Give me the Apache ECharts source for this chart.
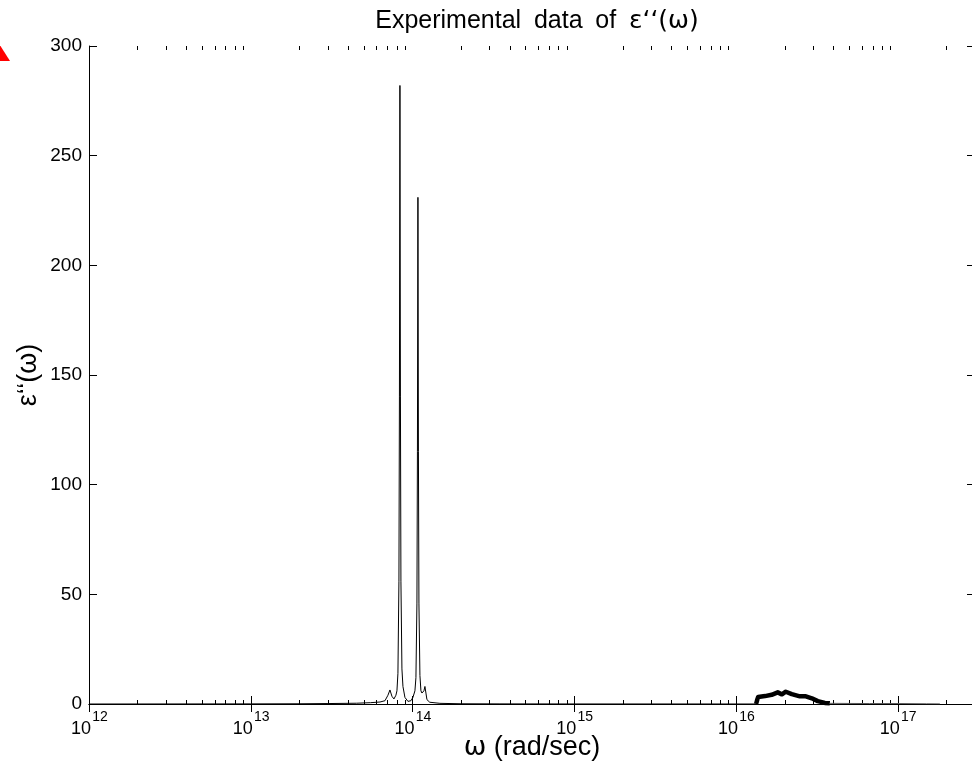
<!DOCTYPE html>
<html>
<head>
<meta charset="utf-8">
<script src="https://cdn.jsdelivr.net/npm/echarts@6/dist/echarts.min.js"></script>
<style>html,body{margin:0;padding:0;background:#fff}#chart{width:972px;height:766px}</style>
</head>
<body>
<div id="chart"></div>
<script>
// ---- data ----
const titleWords = ['Experimental', 'data', 'of'];
const titleSymbol = '\u03b5\u2018\u2018(\u03c9)';
const xNameSymbol = '\u03c9';
const xNameRest = ' (rad/sec)';
const yName = '\u03b5\u2018\u2018(\u03c9)';
const xMin = 1e12;
const xMax = 3e17;
const yMin = 0;
const yMax = 300;
const yStep = 50;
const majorTicksX = [1e12, 1e13, 1e14, 1e15, 1e16, 1e17];
const minorTicksX = [
  2e12,3e12,4e12,5e12,6e12,7e12,8e12,9e12,
  2e13,3e13,4e13,5e13,6e13,7e13,8e13,9e13,
  2e14,3e14,4e14,5e14,6e14,7e14,8e14,9e14,
  2e15,3e15,4e15,5e15,6e15,7e15,8e15,9e15,
  2e16,3e16,4e16,5e16,6e16,7e16,8e16,9e16,
  2e17
];
// infrared phonon peaks
const irOmega = [1e12, 3e12, 1e13, 2e13, 3e13, 4.5e13, 5.5e13, 6.29e13, 6.754e13, 7.048e13, 7.251e13,
  7.46e13, 7.675e13, 7.896e13, 8.01e13, 8.124e13, 8.241e13, 8.30e13, 8.359e13, 8.419e13, 8.479e13,
  8.60e13, 8.724e13, 8.975e13, 9.366e13, 9.774e13, 1.0058e14, 1.0348e14, 1.0496e14, 1.0646e14,
  1.0722e14, 1.0799e14, 1.0876e14, 1.0954e14, 1.1111e14, 1.127e14, 1.1432e14, 1.1762e14, 1.193e14,
  1.2101e14, 1.2274e14, 1.2774e14, 1.476e14, 2e14, 3.47e14, 1e15, 6e15, 1.3e16];
const irEps = [0, 0.02, 0.05, 0.1, 0.2, 0.35, 0.6, 0.9, 1.5, 4, 6.4,
  3.5, 2.3, 4, 6, 14, 56, 140, 282, 140, 56,
  16, 8, 3, 1.2, 1.5, 3, 6, 12, 46,
  115, 231, 115, 46, 13, 6, 5, 6, 8,
  5, 2, 0.8, 0.3, 0.1, 0.05, 0.02, 0.01, 0];
// ultraviolet electronic band (noisy, drawn thick)
const uvOmega = [1.33e16, 1.35e16, 1.37e16, 1.51e16, 1.66e16, 1.81e16, 1.92e16, 2.03e16, 2.21e16,
  2.48e16, 2.70e16, 2.94e16, 3.20e16, 3.54e16, 3.80e16];
const uvEps = [0, 1.8, 3.2, 3.6, 4.2, 5.3, 4.4, 5.6, 4.5, 3.5, 3.5, 2.6, 1.3, 0.5, 0.3];
const tailOmega = [3.80e16, 6.71e16, 1.03e17, 1.5e17, 1.82e17];
const tailEps = [0.3, 0.2, 0.2, 0.1, 0.05];

const zip = (a, b) => a.map((v, i) => [v, b[i]]);
const FONT = '"Liberation Sans", Arial, sans-serif';
const GFONT = '"DejaVu Sans", sans-serif';

const gridBox = { left: 89, top: 46, width: 886, height: 658, containLabel: false, outerBoundsMode: 'none' };

const chart = echarts.init(document.getElementById('chart'), null, { renderer: 'canvas' });
const supLabel = v => '{s|' + Math.round(Math.log10(v)) + '}\n{b|10}';

const logAxisBase = {
  type: 'log', logBase: 10, min: xMin, max: xMax,
  splitLine: { show: false }, minorTick: { show: false }, minorSplitLine: { show: false }
};

const titleRich = titleWords.map(w => '{a|' + w + '}').join('{sp| }') + '{sp| }{g|' + titleSymbol + '}';

chart.setOption({
  animation: false,
  backgroundColor: '#fff',
  title: {
    text: titleRich, left: 532, top: 3, textAlign: 'center',
    textStyle: {
      fontFamily: FONT, fontSize: 25, fontWeight: 'normal', color: '#000',
      rich: {
        a: { fontFamily: FONT, fontSize: 25, lineHeight: 27, color: '#000' },
        sp: { fontFamily: FONT, fontSize: 46, lineHeight: 27, color: '#000' },
        g: { fontFamily: GFONT, fontSize: 25, lineHeight: 27, color: '#000' }
      }
    }
  },
  grid: [Object.assign({}, gridBox), Object.assign({}, gridBox)],
  xAxis: [
    Object.assign({}, logAxisBase, {
      gridIndex: 0, position: 'bottom',
      name: '{g|' + xNameSymbol + '}{a|' + xNameRest + '}', nameLocation: 'middle', nameGap: 29,
      nameMoveOverlap: false,
      nameTextStyle: {
        fontFamily: FONT, fontSize: 27, color: '#000',
        rich: {
          g: { fontFamily: GFONT, fontSize: 27, lineHeight: 29, color: '#000' },
          a: { fontFamily: FONT, fontSize: 27, lineHeight: 29, color: '#000' }
        }
      },
      axisLine: { show: true, lineStyle: { color: '#000', width: 1 } },
      axisTick: { show: true, inside: true, length: 8, customValues: majorTicksX, lineStyle: { color: '#000' } },
      axisLabel: {
        show: true, customValues: majorTicksX, margin: 8, formatter: supLabel,
        rich: {
          s: { fontFamily: FONT, fontSize: 14, lineHeight: 10, padding: [0, 0, 0, 22], color: '#000' },
          b: { fontFamily: FONT, fontSize: 18, lineHeight: 15, padding: [0, 16, 0, 0], color: '#000' }
        }
      }
    }),
    Object.assign({}, logAxisBase, {
      gridIndex: 0, position: 'top',
      axisLine: { show: true, lineStyle: { color: '#000', width: 1 } },
      axisTick: { show: true, inside: true, length: 8, customValues: majorTicksX, lineStyle: { color: '#000' } },
      axisLabel: { show: false }
    }),
    Object.assign({}, logAxisBase, {
      gridIndex: 1, position: 'bottom',
      axisLine: { show: false },
      axisTick: { show: true, inside: true, length: 4, customValues: minorTicksX, lineStyle: { color: '#000' } },
      axisLabel: { show: false }
    }),
    Object.assign({}, logAxisBase, {
      gridIndex: 1, position: 'top',
      axisLine: { show: false },
      axisTick: { show: true, inside: true, length: 4, customValues: minorTicksX, lineStyle: { color: '#000' } },
      axisLabel: { show: false }
    })
  ],
  yAxis: [
    {
      type: 'value', gridIndex: 0, position: 'left', min: yMin, max: yMax, interval: yStep,
      name: yName, nameLocation: 'middle', nameGap: 47, nameRotate: 90,
      nameMoveOverlap: false,
      nameTextStyle: { fontFamily: FONT, fontSize: 27, color: '#000' },
      splitLine: { show: false },
      axisLine: { show: true, lineStyle: { color: '#000', width: 1 } },
      axisTick: { show: true, inside: true, length: 8, lineStyle: { color: '#000' } },
      axisLabel: { show: true, margin: 7, fontFamily: FONT, fontSize: 19, color: '#000' }
    },
    {
      type: 'value', gridIndex: 0, position: 'right', min: yMin, max: yMax, interval: yStep,
      splitLine: { show: false },
      axisLine: { show: true, lineStyle: { color: '#000', width: 1 } },
      axisTick: { show: true, inside: true, length: 8, lineStyle: { color: '#000' } },
      axisLabel: { show: false }
    },
    {
      type: 'value', gridIndex: 1, min: yMin, max: yMax, show: false
    }
  ],
  series: [
    {
      type: 'line', xAxisIndex: 0, yAxisIndex: 0, data: zip(irOmega, irEps),
      showSymbol: false, symbol: 'none', smooth: false,
      lineStyle: { color: '#000', width: 1 }
    },
    {
      type: 'line', xAxisIndex: 0, yAxisIndex: 0, data: zip(uvOmega, uvEps),
      showSymbol: false, symbol: 'none',
      lineStyle: { color: '#000', width: 4.5, join: 'round' }
    },
    {
      type: 'line', xAxisIndex: 0, yAxisIndex: 0, data: zip(tailOmega, tailEps),
      showSymbol: false, symbol: 'none',
      lineStyle: { color: '#555', width: 1 }
    }
  ],
  graphic: [
    {
      type: 'polygon', silent: true,
      shape: { points: [[-2, 42], [10, 61], [-2, 61]] },
      style: { fill: '#ff0000' }
    }
  ]
});
</script>
</body>
</html>
